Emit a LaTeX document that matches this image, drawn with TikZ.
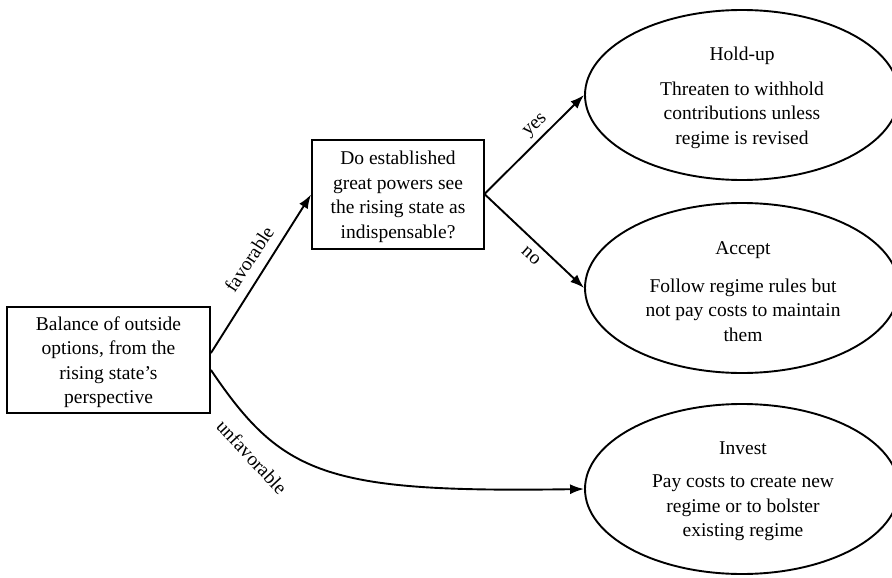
\documentclass[tikz,border=0pt]{standalone}
\usepackage{fontspec}
\setmainfont{Liberation Serif}
\usetikzlibrary{arrows.meta,shapes.geometric}
\tikzset{
  boxnode/.style={draw,line width=1.9pt,inner sep=0pt,align=center},
  ellnode/.style={draw,ellipse,line width=1.9pt,inner sep=0pt,minimum width=314pt,minimum height=170pt},
  txt/.style={align=center,inner sep=0pt,font=\fontsize{19.5}{24.5}\selectfont},
  lbl/.style={inner sep=0pt,font=\fontsize{19.5}{22}\selectfont},
  conn/.style={line width=1.9pt,-{Latex[length=14pt,width=10pt]}}
}
\begin{document}
\begin{tikzpicture}[x=1pt,y=-1pt]
\useasboundingbox (0,0) rectangle (892,578);
% boxes
\node[boxnode,minimum width=203pt,minimum height=106pt] (A) at (108.5,360) {};
\node[txt] (Atext) at (108.5,362) {Balance of outside\\options, from the\\rising state’s\\perspective};
\node[boxnode,minimum width=172pt,minimum height=109pt] (B) at (398,194.5) {};
\node[txt] (Btext) at (398,197) {Do established\\great powers see\\the rising state as\\indispensable?};
% ellipses
\node[ellnode] (H) at (742,95) {};
\node[txt] (Htitle) at (742,56) {Hold-up};
\node[txt] (Hbody) at (742,115) {Threaten to withhold\\contributions unless\\regime is revised};
\node[ellnode] (C) at (742,288) {};
\node[txt] (Ctitle) at (743,250) {Accept};
\node[txt] (Cbody) at (743,310) {Follow regime rules but\\not pay costs to maintain\\them};
\node[ellnode] (I) at (742,489) {};
\node[txt] (Ititle) at (743,448) {Invest};
\node[txt] (Ibody) at (743,508) {Pay costs to create new\\regime or to bolster\\existing regime};
% connectors
\draw[conn] ([yshift=7pt]A.east) -- (B.west);
\draw[conn] ([yshift=1pt]B.east) -- (H.west);
\draw[conn] (B.east) -- (C.west);
\draw[conn] ([yshift=-10pt]A.east) .. controls (282,475) and (325,493) .. (I.west);
% labels
\node[lbl,rotate=57] (lfav) at (249,259) {favorable};
\node[lbl,rotate=43] (lyes) at (536,126) {yes};
\node[lbl,rotate=-42] (lno) at (531,256) {no};
\node[lbl,rotate=-47] (lunf) at (252,457) {unfavorable};
\end{tikzpicture}
\end{document}
